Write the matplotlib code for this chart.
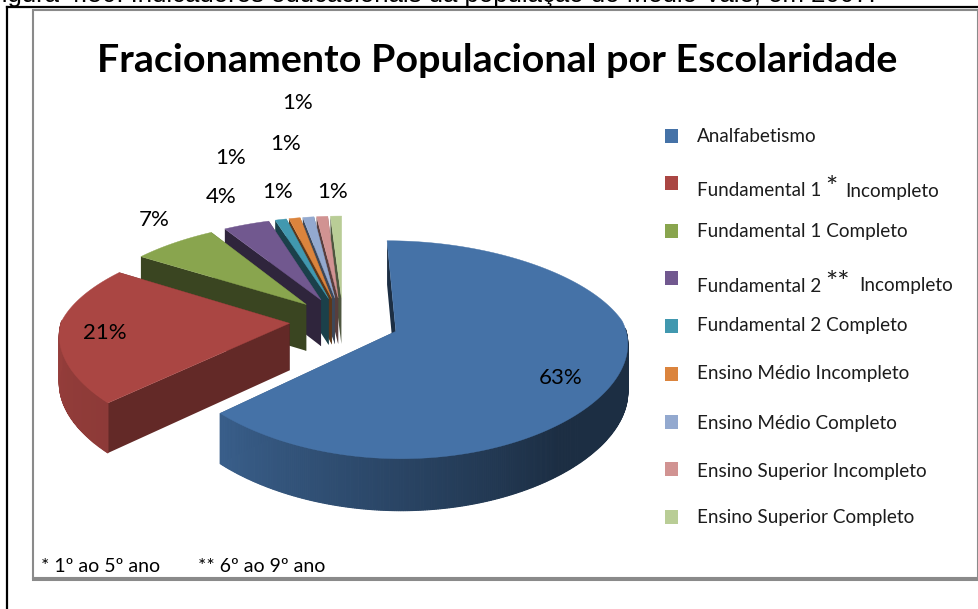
import numpy as np
import matplotlib
matplotlib.use('Agg')
import matplotlib.pyplot as plt
from matplotlib.colors import to_rgb
from matplotlib.patches import Polygon, Rectangle

categories = ['Analfabetismo', 'Fundamental 1* Incompleto', 'Fundamental 1 Completo',
              'Fundamental 2** Incompleto', 'Fundamental 2 Completo', 'Ensino Médio Incompleto',
              'Ensino Médio Completo', 'Ensino Superior Incompleto', 'Ensino Superior Completo']
values = [63, 21, 7, 4, 1, 1, 1, 1, 1]
colors = ['#4572A7', '#AA4643', '#89A54E', '#71588F', '#4198AF', '#DB843D', '#93A9CF', '#D19392', '#B9CD96']
explode = [0.25, 0.235, 0.235, 0.235, 0.235, 0.235, 0.235, 0.235, 0.235]

# pie "camera", in figure pixels
CX, CY = 343, 321
RX, RY = 228, 102.4
PERSP = 0.166
DEPTH = 47


def project(u, v):
    f = 1 / (1 + PERSP * v)
    fx = np.where(v > 0, 1 - 0.175 * v, 1 - 0.1 * v)
    return CX + RX * u * fx, CY - RY * v * f, DEPTH * np.sqrt(f)


def shade(color, factor):
    return tuple(c * factor for c in to_rgb(color))


def wall_factor(deg):
    return np.interp(deg, [100, 140, 226.8, 270], [0.40, 0.40, 0.83, 0.88])


def face_factor(deg):
    return np.interp(deg, [180, 226.8, 302.4, 360], [0.4, 0.58, 0.42, 0.42])


def draw_slice(ax, start, end, color, dist):
    mid = np.radians((start + end) / 2)
    ou, ov = dist * np.sin(mid), dist * np.cos(mid)
    degs = np.linspace(start, end, max(int(end - start) * 2, 6))
    rad = np.radians(degs)
    xs, ys, hs = project(ou + np.sin(rad), ov + np.cos(rad))
    ax0, ay0, ah0 = project(ou, ov)
    # cut faces, the end one goes first so the start one hides it
    for i, deg in [(-1, end), (0, start)]:
        pts = [(ax0, ay0), (xs[i], ys[i]), (xs[i], ys[i] + hs[i]), (ax0, ay0 + ah0)]
        ax.add_patch(Polygon(pts, closed=True, fc=shade(color, face_factor(deg)), ec='none', zorder=1))
    # outer wall, only the front half shows
    for i in range(len(degs) - 1):
        if np.cos(rad[i]) > 0.02 and np.cos(rad[i + 1]) > 0.02:
            continue
        pts = [(xs[i], ys[i]), (xs[i + 1], ys[i + 1]), (xs[i + 1], ys[i + 1] + hs[i + 1]), (xs[i], ys[i] + hs[i])]
        c = shade(color, wall_factor((degs[i] + degs[i + 1]) / 2))
        ax.add_patch(Polygon(pts, closed=True, fc=c, ec=c, lw=0.8, zorder=1))
    top = [(ax0, ay0)] + list(zip(xs, ys))
    ax.add_patch(Polygon(top, closed=True, fc=color, ec=color, lw=0.3, zorder=1))


def legend_label(ax, x, y, label):
    # big raised asterisks, as the original has them
    if '*' not in label:
        ax.text(x, y, label, fontsize=13.6, ha='left', va='center', color='#1c1c1c')
        return
    stars = label.count('*')
    head, tail = label.split('*' * stars)
    ax.text(x, y, head, fontsize=13.6, ha='left', va='center', color='#1c1c1c')
    ax.text(x + 128, y - 2, '*' * stars, fontsize=21, ha='left', va='center', color='#1c1c1c')
    ax.text(x + 148 + 14 * (stars - 1), y, tail.strip(), fontsize=13.6, ha='left', va='center', color='#1c1c1c')


plt.rcParams['font.family'] = ['Lato', 'DejaVu Sans']

fig = plt.figure(figsize=(9.79, 6.09), dpi=100)
ax = fig.add_axes([0, 0, 1, 1])
ax.set_xlim(0, 979)
ax.set_ylim(609, 0)
ax.axis('off')

# page bits around the chart
ax.text(-14, 2, 'Figura 4.50: Indicadores educacionais da população do Médio Vale, em 2007.',
        fontsize=18.5, family='Liberation Sans', va='baseline', ha='left', zorder=5)
ax.plot([7, 7], [7, 609], color='k', lw=1.6)
ax.plot([7, 979], [7, 7], color='k', lw=1.6)
ax.add_patch(Rectangle((33, 9.5), 945, 568.5, fc='white', ec='#8a8a8a', lw=1.5, zorder=0))
ax.plot([33, 979], [578.5, 578.5], color='#8a8a8a', lw=2.2, zorder=0)

# slices, drawn back to front
edges = np.cumsum([0] + values) / sum(values) * 360
for i in range(len(values) - 1, -1, -1):
    draw_slice(ax, edges[i], edges[i + 1], colors[i], explode[i])

ax.text(497, 61, 'Fracionamento Populacional por Escolaridade', fontsize=28.4, fontweight='bold',
        ha='center', va='center')

# data labels
label_xy = [(561, 378), (105, 333), (154, 220), (221, 197), (231, 158), (286, 144), (298, 103), (278, 192), (333, 192)]
for v, (x, y) in zip(values, label_xy):
    ax.text(x, y, f'{v}%', fontsize=16, ha='center', va='center', zorder=6)

# legend
legend_y = [136, 183, 231, 278, 326, 374, 422, 469, 517]
text_y = [136, 191, 231, 286, 326, 373, 423, 471, 518]
for cat, c, y, ty in zip(categories, colors, legend_y, text_y):
    ax.add_patch(Rectangle((665, y - 7), 13, 14, fc=c, ec='none'))
    legend_label(ax, 697, ty, cat)

ax.text(41, 566, '* 1º ao 5º ano', fontsize=14, ha='left', va='center')
ax.text(198, 566, '** 6º ao 9º ano', fontsize=14, ha='left', va='center')

fig.savefig('out.png', dpi=100)
